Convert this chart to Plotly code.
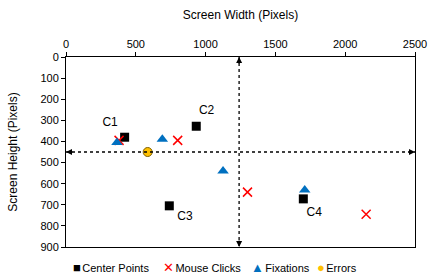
import plotly.graph_objects as go

# Data
center_x = [420, 933, 740, 1700]
center_y = [380, 328, 705, 672]
click_x = [380, 800, 1300, 2150]
click_y = [395, 395, 640, 745]
fix_x = [365, 690, 1125, 1710]
fix_y = [405, 390, 540, 630]
err_x = [585]
err_y = [450]
label_text = ["C1", "C2", "C3", "C4"]
label_x = [316, 1007, 852, 1778]
label_y = [313, 256, 758, 739]
screen_cx = 1240
screen_cy = 450
x_range = [0, 2500]
y_range = [900, 0]

legend_names = ["Center Points", "Mouse Clicks", "Fixations", "Errors"]
legend_symbols = ["■", "✕", "▲", "●"]
legend_colors = ["#000000", "#FF0000", "#0070C0", "#FFC000"]

FONT = "Liberation Sans, Arial, sans-serif"

fig = go.Figure()
fig.add_trace(go.Scatter(x=center_x, y=center_y, mode="markers", name=legend_names[0],
                         marker=dict(symbol="square", size=9, color="black")))
fig.add_trace(go.Scatter(x=click_x, y=click_y, mode="markers", name=legend_names[1],
                         marker=dict(symbol="x-thin", size=9, color="#FF0000",
                                     line=dict(color="#FF0000", width=1.5))))
fig.add_trace(go.Scatter(x=fix_x, y=fix_y, mode="markers", name=legend_names[2],
                         marker=dict(symbol="triangle-up", size=10, color="#0070C0")))
fig.add_trace(go.Scatter(x=err_x, y=err_y, mode="markers", name=legend_names[3],
                         marker=dict(symbol="circle", size=9, color="#FFC000",
                                     line=dict(color="#7F6000", width=1))))
fig.add_trace(go.Scatter(x=label_x, y=label_y, mode="text", text=label_text,
                         textfont=dict(size=12, color="black", family=FONT),
                         hoverinfo="skip"))

# dotted center lines
fig.add_shape(type="line", x0=x_range[0], x1=x_range[1], y0=screen_cy, y1=screen_cy,
              line=dict(color="black", width=1.3, dash="dot"))
fig.add_shape(type="line", x0=screen_cx, x1=screen_cx, y0=y_range[1], y1=y_range[0],
              line=dict(color="black", width=1.3, dash="dot"))

# arrowheads
for (x, y, ax, ay) in [(x_range[0], screen_cy, 8, 0), (x_range[1], screen_cy, -8, 0),
                       (screen_cx, y_range[1], 0, 8), (screen_cx, y_range[0], 0, -8)]:
    fig.add_annotation(x=x, y=y, ax=ax, ay=ay, axref="pixel", ayref="pixel", text="",
                       showarrow=True, arrowhead=2, arrowsize=1, arrowwidth=1.2,
                       arrowcolor="black")

# legend as text annotations (bottom)
legend_x_px = [71, 161, 250, 316]
for name, sym, col, px in zip(legend_names, legend_symbols, legend_colors, legend_x_px):
    fig.add_annotation(xref="paper", yref="paper", x=(px - 66) / 350, y=(247 - 267) / 190,
                       xanchor="left", yanchor="middle", showarrow=False,
                       text=(f"<span style='color:{col};font-size:13px'>{sym}</span>"
                             f"<span style='font-size:5px'> </span>{name}"),
                       font=dict(size=11, color="black", family=FONT))

fig.update_layout(
    width=432, height=280,
    margin=dict(l=66, r=17, t=57, b=33),
    paper_bgcolor="white", plot_bgcolor="white",
    font=dict(family=FONT, size=11, color="black"),
    showlegend=False,
    xaxis=dict(side="top", range=x_range, tick0=0, dtick=500, showgrid=False,
               zeroline=False, showline=True, linecolor="black", linewidth=1,
               mirror=True, ticks="outside", ticklen=4, tickcolor="black",
               automargin=False,
               title=dict(text="Screen Width (Pixels)", font=dict(size=12))),
    yaxis=dict(range=y_range, tick0=0, dtick=100, showgrid=False, zeroline=False,
               showline=True, linecolor="black", linewidth=1, mirror=True,
               ticks="outside", ticklen=4, tickcolor="black", automargin=False,
               title=dict(text="Screen Height (Pixels)", font=dict(size=12), standoff=20)),
)

fig.write_html("out.html", config={"displayModeBar": False},
               post_script="document.body.style.margin='0';document.body.style.overflow='hidden';")
